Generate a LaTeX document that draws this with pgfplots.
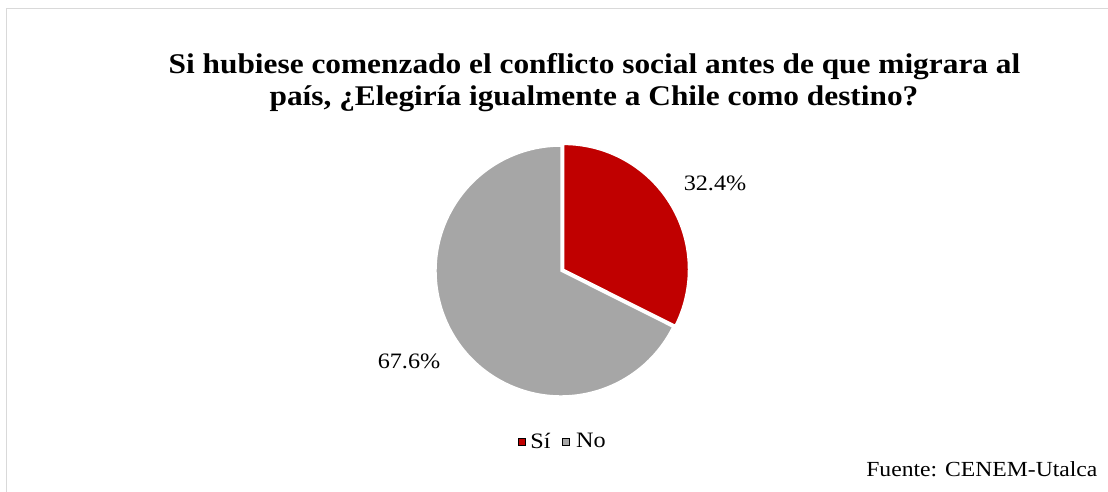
\documentclass[border=0pt]{standalone}
\usepackage{fontspec}
\setmainfont[FakeStretch=1.1]{Liberation Serif}
\usepackage{pgfplots}
\usepackage{pgfplotstable}
\pgfplotsset{compat=1.18}

\definecolor{cred}{HTML}{C00000}
\definecolor{cgray}{HTML}{A6A6A6}
\definecolor{cframe}{HTML}{D9D9D9}

\pgfplotstableread{
label value
Si 32.4
No 67.6
}\piedata

\begin{document}
\begin{tikzpicture}
\begin{axis}[
    hide axis,
    scale only axis,
    width=1108pt, height=492pt,
    xmin=0, xmax=1108, ymin=0, ymax=492,
    clip=false,
    legend columns=2,
    legend style={at={(0.508,0.103)}, anchor=center, draw=none, fill=none,
        font=\fontsize{22}{24}\selectfont},
    legend image code/.code={\fill[#1] (0pt,-3.5pt) rectangle (7pt,3.5pt);},
]
\pgfplotstablegetelem{0}{value}\of\piedata \let\vsi\pgfplotsretval
\pgfplotstablegetelem{1}{value}\of\piedata \let\vno\pgfplotsretval
\pgfmathsetmacro\asi{90-3.6*\vsi}

% frame
\draw[cframe, line width=1pt] (axis cs:6.5,-10) -- (axis cs:6.5,483) -- (axis cs:1120,483);

% slices
\fill[cgray, draw=white, line width=1.5pt] (axis cs:561,221) -- ++(\asi:125pt)
    arc[start angle=\asi, end angle=-270, radius=125pt] -- cycle;
\fill[cred, draw=white, line width=1.5pt] (axis cs:563.5,222.6) -- ++(90:125pt)
    arc[start angle=90, end angle=\asi, radius=125pt] -- cycle;

% data labels
\node[anchor=base, font=\fontsize{22}{24}\selectfont] at (axis cs:715,301) {\vsi\%};
\node[anchor=base, font=\fontsize{22}{24}\selectfont] at (axis cs:409,123) {\vno\%};

% title
\node[anchor=base, font=\fontsize{28.5}{30}\selectfont\bfseries] at (axis cs:594.5,418)
    {Si hubiese comenzado el conflicto social antes de que migrara al};
\node[anchor=base, font=\fontsize{28.5}{30}\selectfont\bfseries] at (axis cs:594,386)
    {país, ¿Elegiría igualmente a Chile como destino?};

% source
\node[anchor=base east, font=\fontsize{21.5}{24}\selectfont] at (axis cs:1101,15)
    {Fuente: CENEM-Utalca};

\addlegendimage{fill=cred}
\addlegendentry{\hbox{\kern3pt Sí\kern9pt}}
\addlegendimage{fill=cgray}
\addlegendentry{\hbox{\kern5pt No}}

\coordinate (bl) at (axis cs:0,0);
\coordinate (tr) at (axis cs:1108,492);
\end{axis}
\pgfresetboundingbox
\path[use as bounding box] (bl) rectangle (tr);
\end{tikzpicture}
\end{document}
